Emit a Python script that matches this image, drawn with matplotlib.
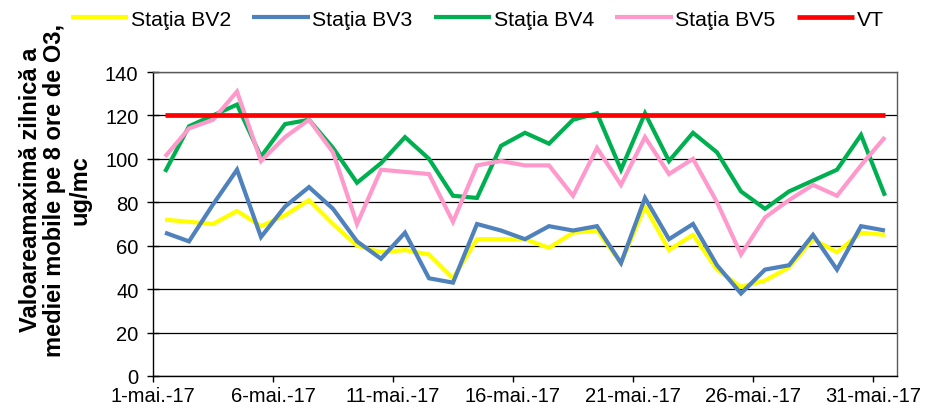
import matplotlib
matplotlib.use('Agg')
import matplotlib.pyplot as plt

plt.rcParams['font.family'] = ['Liberation Sans', 'DejaVu Sans']

days = list(range(1, 32))
tick_labels = ['1-mai.-17', '6-mai.-17', '11-mai.-17', '16-mai.-17',
               '21-mai.-17', '26-mai.-17', '31-mai.-17']

bv2 = [72, 71, 70, 76, 69, 74, 81, 70, 60, 57, 58, 56, 45, 63, 63,
       63, 59, 66, 67, 52, 78, 58, 65, 49, 41, 44, 50, 63, 57, 66, 65]
bv3 = [66, 62, 79, 95, 64, 78, 87, 77, 62, 54, 66, 45, 43, 70, 67,
       63, 69, 67, 69, 52, 82, 63, 70, 51, 38, 49, 51, 65, 49, 69, 67]
bv4 = [94, 115, 120, 125, 101, 116, 118, 105, 89, 98, 110, 100, 83, 82, 106,
       112, 107, 118, 121, 95, 121, 99, 112, 103, 85, 77, 85, 90, 95, 111, 83]
bv5 = [101, 114, 118, 131, 99, 110, 118, 103, 70, 95, 94, 93, 71, 97, 99,
       97, 97, 83, 105, 88, 110, 93, 100, 80, 56, 73, 81, 88, 83, 97, 110]
vt = [120] * 31

series = [
    ('Staţia BV2', bv2, '#FFFF00'),
    ('Staţia BV3', bv3, '#4F81BD'),
    ('Staţia BV4', bv4, '#00B050'),
    ('Staţia BV5', bv5, '#FF99CC'),
    ('VT', vt, '#FF0000'),
]

fig = plt.figure(figsize=(9.34, 4.10), dpi=100)
ax = fig.add_axes([153 / 934, 33 / 410, 744 / 934, 304 / 410])

for name, vals, color in series:
    lw = 3.4 if name == 'VT' else 3.0
    ax.plot(days, vals, color=color, lw=lw, label=name, solid_capstyle='butt',
            solid_joinstyle='miter')

ax.set_xlim(0.5, 31.5)
ax.set_ylim(0, 140)
ax.set_yticks(range(0, 141, 20))
ax.set_xticks([0.5 + 5 * i for i in range(len(tick_labels))])
ax.set_xticklabels(tick_labels)

ax.grid(axis='y', color='black', lw=0.9)
ax.set_axisbelow(True)

ax.tick_params(axis='y', direction='inout', length=8, width=1, pad=6.5,
               labelsize=14.5, colors='black')
ax.tick_params(axis='x', direction='out', length=4.5, width=1, pad=3,
               labelsize=14.5, colors='black')

for s in ['left', 'bottom']:
    ax.spines[s].set_color('black')
    ax.spines[s].set_linewidth(1)
for s in ['top', 'right']:
    ax.spines[s].set_color('#595959')
    ax.spines[s].set_linewidth(1)

ax.set_ylabel('Valoareamaximă zilnică a\nmediei mobile pe 8 ore de O3,\nug/mc',
              fontsize=17, fontweight='bold', linespacing=1.1)
ax.yaxis.set_label_coords(-0.083, 0.615)

fig.legend(loc='center', bbox_to_anchor=(0.511, 0.951), ncol=5, frameon=False,
           fontsize=15.3, handlelength=2.7, handletextpad=0.12,
           columnspacing=1.0)

fig.savefig('out.png', dpi=100)
